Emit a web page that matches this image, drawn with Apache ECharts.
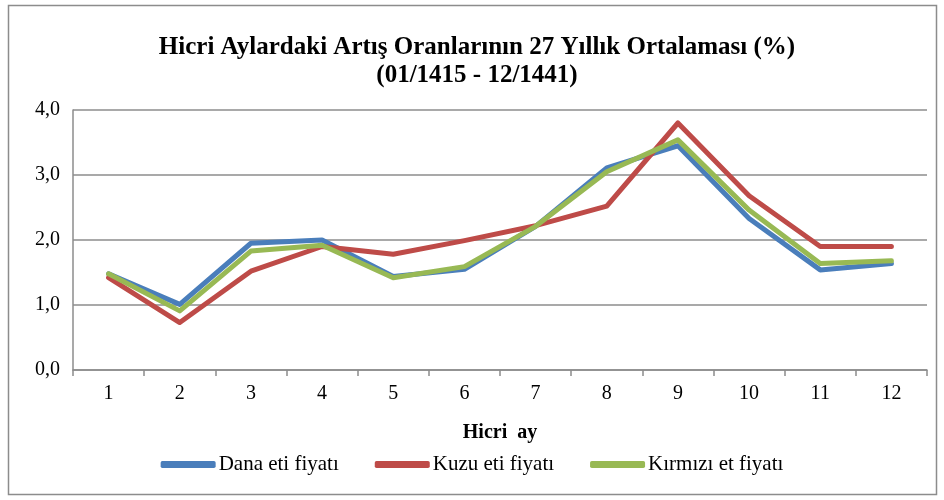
<!DOCTYPE html>
<html>
<head>
<meta charset="utf-8">
<script src="https://cdn.jsdelivr.net/npm/echarts@6/dist/echarts.min.js"></script>
<style>
html,body{margin:0;padding:0;background:#fff;}
#chart{width:944px;height:500px;}
</style>
</head>
<body>
<div id="chart"></div>
<script>
var months = ['1','2','3','4','5','6','7','8','9','10','11','12']
var dana = [1.48, 1.01, 1.95, 2.00, 1.44, 1.55, 2.21, 3.11, 3.45, 2.33, 1.54, 1.64]
var kuzu = [1.42, 0.73, 1.52, 1.90, 1.78, 1.99, 2.22, 2.52, 3.80, 2.68, 1.90, 1.90]
var kirmizi = [1.48, 0.91, 1.83, 1.92, 1.42, 1.59, 2.21, 3.05, 3.54, 2.46, 1.64, 1.68]

var myChart = echarts.init(document.getElementById('chart'))
var serif = '"Liberation Serif", "DejaVu Serif", serif'

function line(name, data, color){
    return {
        name: name,
        type: 'line',
        data: data,
        symbol: 'none',
        color: color,
        lineStyle: {width: 5, color: color, cap: 'round', join: 'round'}
    }
}

var option = {
    animation: false,
    backgroundColor: '#fff',
    graphic: [{
        type: 'rect',
        shape: {x: 8.5, y: 5.5, width: 928, height: 489},
        style: {fill: 'none', stroke: '#8c8c8c', lineWidth: 1.5}
    }],
    title: {
        text: 'Hicri Aylardaki Artış Oranlarının 27 Yıllık Ortalaması (%)\n(01/1415 - 12/1441)',
        left: 472,
        textAlign: 'center',
        top: 29,
        textStyle: {fontFamily: serif, fontSize: 25, fontWeight: 'bold', color: '#000', lineHeight: 28}
    },
    legend: {
        top: 449,
        left: 'center',
        itemWidth: 55,
        itemHeight: 7,
        itemGap: 36,
        icon: 'roundRect',
        textStyle: {fontFamily: serif, fontSize: 21, color: '#000', padding: [0, 0, 0, -2]},
        data: ['Dana eti fiyatı', 'Kuzu eti fiyatı', 'Kırmızı et fiyatı']
    },
    grid: {left: 73, right: 17, top: 110, bottom: 130},
    xAxis: {
        type: 'category',
        data: months,
        boundaryGap: true,
        name: 'Hicri  ay',
        nameLocation: 'middle',
        nameGap: 53,
        nameTextStyle: {fontFamily: serif, fontSize: 20, fontWeight: 'bold', color: '#000'},
        axisLine: {lineStyle: {color: '#8c8c8c', width: 1.5}},
        axisTick: {show: true, length: 6, lineStyle: {color: '#8c8c8c', width: 1.5}},
        axisLabel: {fontFamily: serif, fontSize: 20, color: '#000', margin: 14}
    },
    yAxis: {
        type: 'value',
        min: 0,
        max: 4,
        interval: 1,
        axisLine: {show: true, lineStyle: {color: '#8c8c8c', width: 1.5}},
        axisTick: {show: false},
        splitLine: {lineStyle: {color: '#8c8c8c', width: 1.5}},
        axisLabel: {
            fontFamily: serif, fontSize: 20, color: '#000', margin: 13,
            formatter: function(v){ return v.toFixed(1).replace('.', ',') }
        }
    },
    series: [
        line('Dana eti fiyatı', dana, '#4a7ebb'),
        line('Kuzu eti fiyatı', kuzu, '#be4b48'),
        line('Kırmızı et fiyatı', kirmizi, '#98b954')
    ]
}
myChart.setOption(option)
</script>
</body>
</html>
